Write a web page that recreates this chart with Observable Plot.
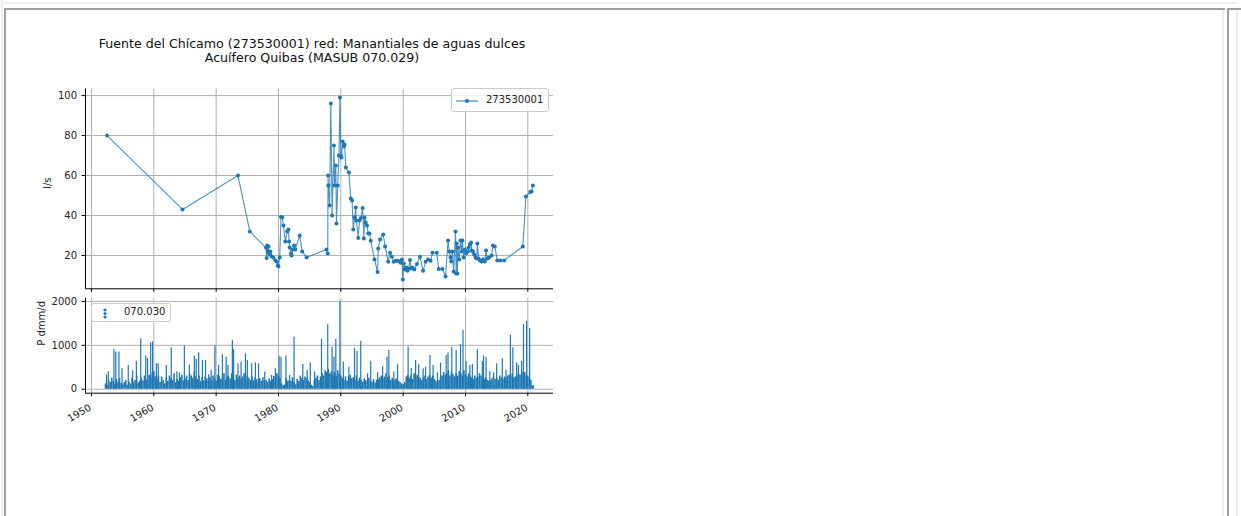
<!DOCTYPE html>
<html><head><meta charset="utf-8">
<script src="https://cdn.jsdelivr.net/npm/d3@7"></script>
<script src="https://cdn.jsdelivr.net/npm/@observablehq/plot@0.6"></script>
<style>
body{margin:0;background:#fff;width:1241px;height:516px;overflow:hidden;position:relative;font-family:"DejaVu Sans",sans-serif;}
.abs{position:absolute}
.leg{position:absolute;border:1px solid #cccccc;border-radius:3px;background:rgba(255,255,255,0.8);font-size:10px;color:#222;box-sizing:border-box}
</style></head><body>
<div class="abs" style="left:4px;top:2px;width:1233px;height:2px;background:#ececec"></div>
<div class="abs" style="left:1px;top:0;width:2px;height:516px;background:#ececec"></div>
<div class="abs" style="left:4px;top:8px;width:2px;height:508px;background:#9e9e9e"></div>
<div class="abs" style="left:4px;top:8px;width:1221px;height:2px;background:#9e9e9e"></div>
<div class="abs" style="left:1222px;top:10px;width:2px;height:506px;background:#ececec"></div>
<div class="abs" style="left:1227px;top:8px;width:2px;height:508px;background:#9e9e9e"></div>
<div class="abs" style="left:1227px;top:8px;width:14px;height:2px;background:#9e9e9e"></div>
<div class="abs" style="left:1236px;top:10px;width:2px;height:506px;background:#ececec"></div>

<div class="abs" id="title" style="left:0;top:37px;width:624px;text-align:center;font-size:12.6px;line-height:14px;color:#111">Fuente del Chícamo (273530001) red: Manantiales de aguas dulces<br>Acuífero Quibas (MASUB 070.029)</div>
<div class="abs" id="top" style="left:0;top:0"></div>
<div class="abs" id="bottom" style="left:0;top:290px"></div>

<div class="leg" style="left:451px;top:88px;width:98px;height:24px">
  <svg class="abs" style="left:3px;top:5px" width="24" height="14"><line x1="1" y1="7" x2="23" y2="7" stroke="#1f77b4" stroke-width="1"/><circle cx="12" cy="7" r="2" fill="#1f77b4"/></svg>
  <span class="abs" style="left:34px;top:5px">273530001</span>
</div>
<div class="leg" style="left:91px;top:303px;width:80px;height:19px">
  <svg class="abs" style="left:9px;top:2px" width="8" height="14"><circle cx="4" cy="4" r="1.6" fill="#1f77b4"/><circle cx="4" cy="7.5" r="1.6" fill="#1f77b4"/><circle cx="4" cy="11" r="1.6" fill="#1f77b4"/></svg>
  <span class="abs" style="left:32px;top:2px">070.030</span>
</div>

<script>
// ---- data ----
const xTicks = [1950, 1960, 1970, 1980, 1990, 2000, 2010, 2020];
const flowTicks = [20, 40, 60, 80, 100];
const precTicks = [0, 1000, 2000];

const flowYears = [1952.5,1964.6,1973.5,1975.4,1978.0,1978.1,1978.2,1978.3,1978.4,1978.5,1978.6,1978.7,1978.9,1979.2,1979.5,1979.7,1979.9,1980.0,1980.2,1980.4,1980.6,1980.8,1981.1,1981.4,1981.6,1981.7,1981.8,1982.0,1982.1,1982.3,1982.5,1982.7,1983.4,1983.8,1984.5,1987.7,1987.9,1987.95,1988.0,1988.2,1988.4,1988.6,1988.9,1989.0,1989.2,1989.3,1989.5,1989.7,1989.85,1990.0,1990.1,1990.3,1990.5,1990.6,1990.8,1991.3,1991.6,1991.8,1992.0,1992.2,1992.4,1992.5,1992.8,1993.0,1993.2,1993.5,1993.7,1993.8,1994.0,1994.2,1994.4,1994.6,1994.8,1995.4,1995.9,1996.0,1996.3,1996.8,1997.1,1997.6,1997.9,1998.2,1998.5,1998.8,1999.1,1999.4,1999.6,1999.8,1999.95,2000.1,2000.3,2000.5,2000.7,2000.9,2001.1,2001.3,2001.5,2001.8,2002.2,2002.7,2003.2,2003.6,2004.0,2004.4,2004.7,2005.4,2005.7,2006.3,2006.8,2007.2,2007.4,2007.6,2007.7,2007.9,2008.1,2008.4,2008.5,2008.6,2008.7,2008.8,2009.0,2009.2,2009.4,2009.5,2009.7,2009.9,2010.1,2010.4,2010.5,2010.7,2010.9,2011.0,2011.2,2011.4,2011.6,2011.8,2011.9,2012.1,2012.3,2012.6,2012.8,2013.1,2013.3,2013.5,2013.8,2014.2,2014.4,2014.7,2015.1,2015.6,2016.2,2019.2,2019.7,2020.4,2020.6,2020.8];
const flowValues = [80,43,60,32,23.8,18.7,25,22,24.5,21,20.5,22,19.5,18.8,17.5,17,15,14.5,19,39.2,39,35,27,32,33,27,24,21,20,23,25,23,30,22,19,23,21,60,55,45,96,40,75,55,65,36,55,70,99,70,69,77,74.5,75.5,64,61.5,48.5,47.5,33,39,44,37.5,28.7,37.5,38.7,43.7,28.5,39,36.5,35,31,31,27.3,18,11.7,23.5,28,30.5,24.5,16.8,21.3,19.3,16.8,17.3,17.3,17,16.3,18,8,16,13,14,12.3,13.5,17.7,13.5,14,13,15.7,19.3,12.3,16.8,18,17.3,21.3,21.3,13.2,13.2,9.5,27.5,22,19,17,22,12,32,11,26,11,24,18,27.5,22,27.5,19,23,21,22,24,25.5,26.5,22.5,22,20.5,19,18.5,26,18.5,17.5,17,18,17,22.5,18.5,19,20,25,24.5,17.5,17.5,17.5,24.5,49.5,51.7,52,55];

// precipitation background level, four values per year (quarters)
const precYears = [1952,1953,1954,1955,1956,1957,1958,1959,1960,1961,1962,1963,1964,1965,1966,1967,1968,1969,1970,1971,1972,1973,1974,1975,1976,1977,1978,1979,1980,1981,1982,1983,1984,1985,1986,1987,1988,1989,1990,1991,1992,1993,1994,1995,1996,1997,1998,1999,2000,2001,2002,2003,2004,2005,2006,2007,2008,2009,2010,2011,2012,2013,2014,2015,2016,2017,2018,2019,2020];
const precLevels = [
 [0,120,90,200],[150,250,180,120],[220,160,240,130],[100,150,200,90],[170,120,250,160],
 [200,300,140,180],[250,190,300,210],[180,320,260,350],[400,280,220,300],[150,280,200,120],
 [260,180,300,240],[200,350,150,220],[180,260,320,190],[240,300,200,350],[300,250,400,280],
 [220,300,180,260],[190,280,240,170],[260,200,300,240],[180,320,280,220],[250,350,200,300],
 [280,230,350,260],[200,320,250,300],[230,280,350,210],[300,250,200,280],[190,260,220,170],
 [240,180,260,200],[200,160,230,180],[220,290,260,350],[300,240,120,80],[100,250,180,200],
 [180,260,150,100],[220,180,300,250],[200,280,240,190],[150,90,60,200],[250,300,200,280],
 [350,300,420,380],[450,350,400,320],[380,300,420,350],[300,250,200,280],[180,280,320,240],
 [260,200,300,180],[250,200,160,230],[200,150,250,180],[160,220,140,200],[220,260,300,240],
 [280,350,260,300],[200,250,180,220],[240,180,150,120],[100,150,280,320],[250,300,220,350],
 [280,320,260,240],[200,260,300,220],[280,320,250,300],[220,180,140,200],[250,300,380,320],
 [350,420,300,380],[330,280,350,300],[400,350,300,420],[320,280,350,300],[260,220,300,250],
 [280,350,300,240],[220,260,200,180],[200,240,280,220],[250,200,300,260],[220,280,250,300],
 [320,280,350,260],[280,300,350,320],[350,400,380,300],[300,250,200,80]
];
// precipitation peaks (date, dmm/d)
const peakYears = [1952.4,1952.7,1953.6,1953.9,1954.4,1954.9,1955.9,1956.6,1957.2,1957.9,1958.7,1959.0,1959.5,1959.8,1960.4,1960.7,1962.0,1962.8,1963.7,1964.1,1964.9,1965.7,1966.5,1966.8,1967.2,1967.8,1968.3,1968.8,1969.2,1969.8,1970.4,1971.0,1971.6,1971.9,1972.6,1972.8,1973.5,1974.0,1974.7,1975.0,1975.7,1976.3,1976.8,1977.8,1978.9,1979.5,1980.1,1980.4,1981.2,1981.8,1982.5,1983.9,1984.6,1985.1,1985.8,1986.9,1987.9,1988.6,1988.9,1989.2,1989.85,1990.4,1991.3,1992.2,1992.6,1993.2,1994.3,1994.8,1995.9,1996.7,1997.4,1997.7,1998.5,1999.1,2000.8,2001.3,2002.0,2002.5,2003.2,2003.6,2004.3,2004.8,2005.5,2006.0,2006.9,2007.2,2007.8,2008.5,2009.2,2009.6,2010.1,2010.7,2011.1,2011.9,2012.7,2012.9,2013.3,2013.9,2014.5,2015.0,2015.9,2016.5,2017.2,2017.6,2018.2,2018.5,2019.0,2019.3,2019.8,2020.3,2020.9];
const peakValues = [330,400,910,850,850,465,540,420,630,1150,755,700,1060,1075,580,580,540,945,400,370,985,550,750,680,830,655,655,330,430,985,540,785,730,540,1110,900,580,620,810,655,580,600,580,390,310,465,750,730,755,310,1190,565,430,600,390,1135,1470,955,730,1130,1990,620,500,925,860,1090,350,630,375,520,730,880,390,555,960,480,655,555,465,500,770,540,375,600,770,825,955,885,1015,1340,630,540,565,900,630,755,730,405,375,580,695,430,1230,945,600,540,630,1470,1550,1380,80];

// ---- build tables ----
const flow = flowYears.map((t, i) => ({t, v: flowValues[i]}));
const precBase = [];
precYears.forEach((y, i) => precLevels[i].forEach((v, q) => { if (v > 0) precBase.push({t: y + 0.25 * q, v}); }));
const precPeaks = peakYears.map((t, i) => ({t, v: peakValues[i]}));

const xDom = [1949.04, 2024.12];
const style = {fontFamily: "DejaVu Sans", fontSize: "10px", color: "#222", background: "transparent", overflow: "visible"};
const blue = "#1f77b4";
const grid = "#b0b0b0";

const topPlot = Plot.plot({
  width: 620, height: 300,
  marginLeft: 85, marginRight: 67, marginTop: 88.3, marginBottom: 11.7,
  x: {domain: xDom},
  y: {domain: [3.3, 103.4]},
  style,
  marks: [
    Plot.gridX(xTicks, {stroke: grid, strokeOpacity: 1, strokeWidth: 1}),
    Plot.gridY(flowTicks, {stroke: grid, strokeOpacity: 1, strokeWidth: 1}),
    Plot.axisY(flowTicks, {tickSize: 3.5, tickPadding: 5, tickFormat: d => String(d), label: null, stroke: "#000"}),
    Plot.axisX(xTicks, {tickSize: 3.5, tickFormat: () => "", label: null, stroke: "#000"}),
    Plot.ruleX([xDom[0]], {stroke: "#000", strokeWidth: 1}),
    Plot.ruleY([3.3], {stroke: "#000", strokeWidth: 1}),
    Plot.line(flow, {x: "t", y: "v", stroke: blue, strokeOpacity: 0.8, strokeWidth: 1.1}),
    Plot.dot(flow, {x: "t", y: "v", r: 2, fill: blue, stroke: null}),
    Plot.text(["l/s"], {frameAnchor: "left", dx: -38, rotate: -90, fontSize: 10, fill: "#222"})
  ]
});
document.getElementById("top").appendChild(topPlot);

const botPlot = Plot.plot({
  width: 620, height: 150,
  marginLeft: 85, marginRight: 67, marginTop: 7.7, marginBottom: 47.3,
  x: {domain: xDom},
  y: {domain: [-91, 2073]},
  style,
  marks: [
    Plot.gridX(xTicks, {stroke: grid, strokeOpacity: 1, strokeWidth: 1}),
    Plot.gridY(precTicks, {stroke: grid, strokeOpacity: 1, strokeWidth: 1}),
    Plot.ruleX(precBase, {x: "t", y1: 0, y2: "v", stroke: blue, strokeWidth: 1.6}),
    Plot.ruleX(precPeaks, {x: "t", y1: 0, y2: "v", stroke: blue, strokeWidth: 1.2}),
    Plot.axisY(precTicks, {tickSize: 3.5, tickPadding: 5, tickFormat: d => String(d), label: null, stroke: "#000"}),
    Plot.axisX(xTicks, {tickSize: 3.5, tickFormat: () => "", label: null, stroke: "#000"}),
    Plot.axisX(xTicks, {tickSize: 3.5, tickPadding: 10, strokeOpacity: 0, tickRotate: -30, tickFormat: d => String(d), label: null, dx: -1}),
    Plot.ruleX([xDom[0]], {stroke: "#000", strokeWidth: 1}),
    Plot.ruleY([-91], {stroke: "#000", strokeWidth: 1}),
    Plot.text(["P dmm/d"], {frameAnchor: "left", dx: -44, rotate: -90, fontSize: 10, fill: "#222"})
  ]
});
document.getElementById("bottom").appendChild(botPlot);
</script>
</body></html>
